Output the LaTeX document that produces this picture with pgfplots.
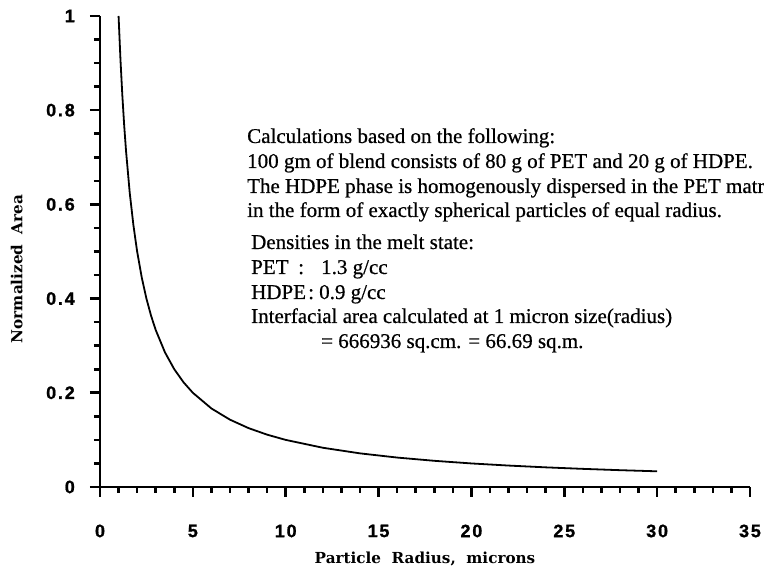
\documentclass[border=0pt]{standalone}
\usepackage{fontspec}
\usepackage{pgfplots}
\pgfplotsset{compat=1.18}
\setmainfont{Liberation Serif}
\newfontfamily\annfont[FakeBold=0.6]{Liberation Serif}
\newfontfamily\ticfont[LetterSpace=10, BoldFeatures={FakeBold=1}]{Liberation Sans}
\newfontfamily\labfont{DejaVu Serif}

\pgfplotstableread{
r     area
1     1.0000
1.1   0.9091
1.2   0.8333
1.3   0.7692
1.4   0.7143
1.6   0.6250
1.8   0.5556
2     0.5000
2.25  0.4444
2.5   0.4000
2.75  0.3636
3     0.3333
3.5   0.2857
4     0.2500
4.5   0.2222
5     0.2000
6     0.1667
7     0.1429
8     0.1250
9     0.1111
10    0.1000
12    0.0833
14    0.0714
16    0.0625
18    0.0556
20    0.0500
22    0.0455
24    0.0417
26    0.0385
28    0.0357
30    0.0333
}\areadata

\begin{document}
\begin{tikzpicture}[x=1pt,y=1pt]
\begin{axis}[
  at={(100pt,85pt)}, anchor=south west,
  scale only axis, width=650pt, height=471pt,
  xmin=0, xmax=35, ymin=0, ymax=1,
  axis x line=bottom, axis y line=left,
  axis line style={line width=2.6pt, -},
  xtick={0,5,...,35}, minor x tick num=4,
  ytick={0,0.2,0.4,0.6,0.8,1}, yticklabels={0,0.2,0.4,0.6,0.8,1},
  minor y tick num=3,
  tick align=outside,
  major tick length=10pt, minor tick length=6pt,
  every tick/.style={black, line width=2.6pt},
  /pgf/number format/assume math mode=true,
  tick label style={font=\fontsize{18}{21}\selectfont\ticfont\bfseries, inner sep=0pt},
  xticklabel style={anchor=center, yshift=-34pt},
  yticklabel style={anchor=east, xshift=-15pt},
  xlabel={Particle\ \ Radius,\ \ microns},
  ylabel={Normalized\ \ Area},
  label style={font=\fontsize{15.2}{18}\selectfont\labfont\bfseries},
  xlabel style={at={(axis description cs:0.5,-0.153)}, anchor=center},
  ylabel style={at={(axis description cs:-0.128,0.463)}, anchor=center},
  clip=false,
]
\addplot[black, line width=1.8pt] table[x=r, y=area] {\areadata};
\end{axis}

% annotation block
\begin{scope}[every node/.style={anchor=base west, inner sep=0pt, font=\fontsize{21}{24}\selectfont\annfont}]
\node at (247, 429) {Calculations based on the following:};
\node at (247, 404) {100 gm of blend consists of 80 g of PET and 20 g of HDPE.};
\node at (247, 379) {The HDPE phase is homogenously dispersed in the PET matrix};
\node at (247, 355) {in the form of exactly spherical particles of equal radius.};
\node at (251, 323) {Densities in the melt state:};
\node at (251, 298) {PET};
\node at (298, 298) {:};
\node at (321, 298) {1.3 g/cc};
\node at (251, 273) {HDPE};
\node at (308, 273) {:};
\node at (319, 273) {0.9 g/cc};
\node at (251, 249) {Interfacial area calculated at 1 micron size(radius)};
\node at (321, 224) {= 666936 sq.cm. = 66.69 sq.m.};
\end{scope}

\pgfresetboundingbox
\useasboundingbox (0,0) rectangle (764,572);
\end{tikzpicture}
\end{document}
